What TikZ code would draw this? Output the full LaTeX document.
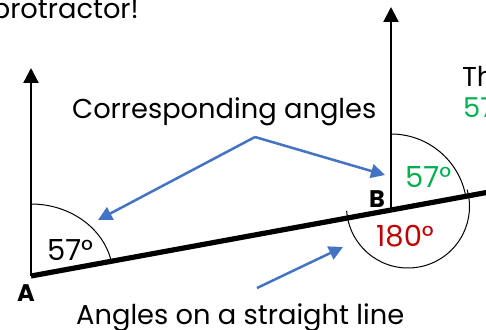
\documentclass[tikz,border=0pt]{standalone}
\usepackage{fontspec}
\setmainfont{Poppins}
\usetikzlibrary{arrows.meta}
\definecolor{arrowblue}{RGB}{68,114,196}
\definecolor{anggreen}{RGB}{0,176,80}
\definecolor{angred}{RGB}{192,0,0}
\begin{document}
\begin{tikzpicture}[x=1pt,y=1pt,
  txt/.style={inner sep=0pt,anchor=base west,font=\fontsize{27.3}{30}\selectfont},
  angtxt/.style={inner sep=0pt,anchor=base west,font=\fontsize{29}{32}\selectfont},
  ptlabel/.style={inner sep=0pt,font=\fontsize{24}{28}\selectfont\bfseries},
  axis/.style={line width=2.3pt,-{Triangle[length=15pt,width=15pt]}},
  transv/.style={line width=5.2pt},
  angarc/.style={line width=1pt},
  pointer/.style={draw=arrowblue,line width=2.5pt,-{Triangle[length=14pt,width=14pt]}}]
\useasboundingbox (0,0) rectangle (486,329);
% points
\coordinate (A) at (31,53);
\coordinate (B) at (391,119);
\coordinate (E) at (492,137.5);
\coordinate (TA) at (31,261);
\coordinate (TB) at (391,322);
\coordinate (C) at (408,122.5);
% arcs
\draw[angarc] (A) ++(90:82 and 72) arc[start angle=90,end angle=11.8,x radius=82,y radius=72];
\draw[angarc] (B) ++(90:76) arc[start angle=90,end angle=10.4,radius=76];
\draw[angarc] (C) ++(184:61.5) arc[start angle=184,end angle=376,radius=61.5];
% lines
\draw[axis] (A) -- (TA);
\draw[axis] (B) -- (TB);
\draw[transv] (A) -- (E);
% labels
\node[ptlabel] (la) at (26,36) {A};
\node[ptlabel] (lb) at (377,130) {B};
\node[angtxt] (a1) at (47,69) {57°};
\node[angtxt,text=anggreen] (a2) at (405,141) {57°};
\node[angtxt,text=angred] (a3) at (376,83) {180°};
\node[txt] (corr) at (72,210) {Corresponding angles};
\node[txt] (straight) at (76,5) {Angles on a straight line};
\node[txt,anchor=base east] (prot) at (139,310) {protractor!};
\node[txt] (th) at (462,242) {Th};
\node[txt,text=anggreen] (g57) at (463,211) {57};
% pointers
\coordinate (P) at (255,192);
\coordinate (PL) at (98,109);
\coordinate (PR) at (385,154);
\coordinate (S0) at (257,41);
\coordinate (S1) at (343,82);
\draw[pointer] (P) -- (PL);
\draw[pointer] (P) -- (PR);
\draw[pointer] (S0) -- (S1);
\end{tikzpicture}
\end{document}
